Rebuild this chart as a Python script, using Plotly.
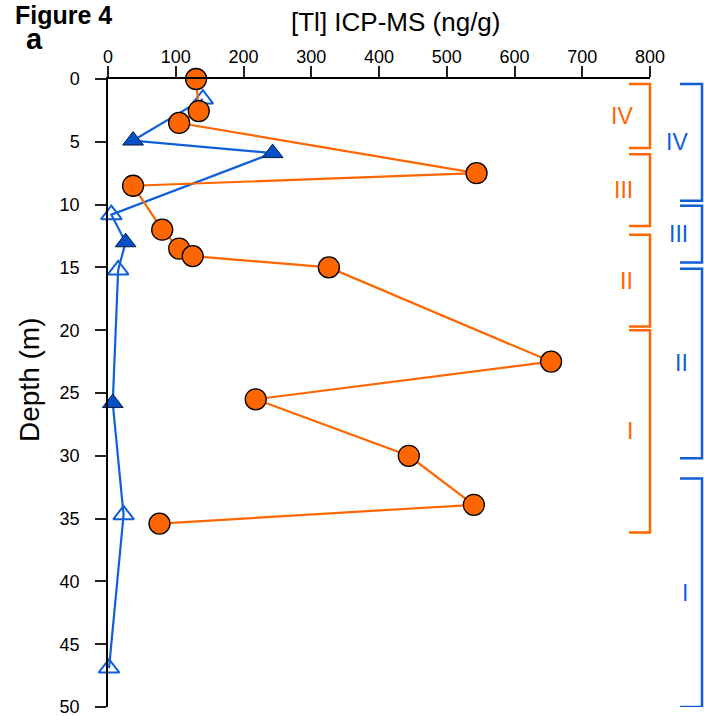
import plotly.graph_objects as go

# ---- data ----
orange_tl = [130, 134, 105, 544, 37, 80, 105, 125, 326, 654, 218, 444, 540, 76]
orange_depth = [0.0, 2.55, 3.5, 7.5, 8.5, 12.0, 13.5, 14.1, 15.0, 22.5, 25.5, 30.0, 33.9, 35.4]

blue_tl = [140, 37, 243, 5, 26, 15, 7, 23, 1.5]
blue_depth = [1.6, 4.9, 5.9, 10.8, 13.0, 15.2, 25.8, 34.7, 46.9]
blue_open = [True, False, False, True, False, True, False, True, True]

orange_zones = ["IV", "III", "II", "I"]
orange_top = [0.4, 6.0, 12.4, 20.0]
orange_bottom = [5.5, 11.7, 19.7, 36.1]

blue_zones = ["IV", "III", "II", "I"]
blue_top = [0.4, 10.1, 15.1, 31.8]
blue_bottom = [9.7, 14.6, 30.2, 50.0]

x_ticks = list(range(0, 801, 100))
y_ticks = list(range(0, 51, 5))

# ---- style ----
ORANGE = "#FF6600"
BLUE = "#0F5FD8"
BLUE_FILL = "#0050C8"
FONT = "Liberation Sans, Arial, Helvetica, sans-serif"

W, H = 704, 716
L, R, T, B = 108, 54, 79, 9
pw, ph = W - L - R, H - T - B


def px_x(p):
    return (p - L) / pw


def px_y(p):
    return (H - B - p) / ph


fig = go.Figure()

fig.add_trace(go.Scatter(
    x=blue_tl, y=blue_depth, mode="lines+markers",
    line=dict(color=BLUE, width=2.2),
    marker=dict(
        symbol=["triangle-up-open" if o else "triangle-up" for o in blue_open],
        size=18,
        color=[BLUE if o else BLUE_FILL for o in blue_open],
        line=dict(color=["#0a1a40" if not o else BLUE for o in blue_open],
                  width=[2 if o else 1 for o in blue_open]),
    ),
    showlegend=False, cliponaxis=False,
))

fig.add_trace(go.Scatter(
    x=orange_tl, y=orange_depth, mode="lines+markers",
    line=dict(color=ORANGE, width=2.2),
    marker=dict(symbol="circle", size=21, color=ORANGE,
                line=dict(color="black", width=1.3)),
    showlegend=False, cliponaxis=False,
))

shapes = []
annotations = []


def bracket(tops, bots, names, x_in, x_out, label_x, color):
    for t, b, n in zip(tops, bots, names):
        shapes.append(dict(type="path", xref="paper", yref="y",
                           path=f"M {x_in},{t} L {x_out},{t} L {x_out},{b} L {x_in},{b}",
                           line=dict(color=color, width=2.5)))
        annotations.append(dict(xref="paper", yref="y", x=label_x, y=(t + b) / 2,
                                text=n, showarrow=False, xanchor="right", yanchor="middle",
                                font=dict(family=FONT, size=23, color=color)))


bracket(orange_top, orange_bottom, orange_zones, px_x(629), px_x(650), px_x(635), ORANGE)
bracket(blue_top, blue_bottom, blue_zones, px_x(680), px_x(702), px_x(690), BLUE)

annotations.append(dict(xref="paper", yref="paper", x=px_x(395), y=px_y(22),
                        text="[Tl] ICP-MS (ng/g)", showarrow=False,
                        xanchor="center", yanchor="middle",
                        font=dict(family=FONT, size=26, color="black")))
annotations.append(dict(xref="paper", yref="paper", x=px_x(30), y=px_y(380),
                        text="Depth (m)", showarrow=False, textangle=-90,
                        xanchor="center", yanchor="middle",
                        font=dict(family=FONT, size=28, color="black")))
annotations.append(dict(xref="paper", yref="paper", x=px_x(13), y=px_y(15),
                        text="<b>Figure 4</b>", showarrow=False,
                        xanchor="left", yanchor="middle",
                        font=dict(family=FONT, size=25, color="black")))
annotations.append(dict(xref="paper", yref="paper", x=px_x(24), y=px_y(39),
                        text="<b>a</b>", showarrow=False,
                        xanchor="left", yanchor="middle",
                        font=dict(family=FONT, size=29, color="black")))

fig.update_layout(
    width=W, height=H,
    margin=dict(l=L, r=R, t=T, b=B, pad=0, autoexpand=False),
    paper_bgcolor="white", plot_bgcolor="white",
    shapes=shapes, annotations=annotations,
    font=dict(family=FONT, size=18, color="black"),
    xaxis=dict(range=[0, 800], side="top", tickvals=x_ticks,
               ticks="outside", ticklen=11, tickwidth=1.5, tickcolor="#222",
               showline=True, linecolor="black", linewidth=1.5,
               showgrid=False, zeroline=False, ticklabelstandoff=-4,
               ticklabeloverflow="allow", automargin=False,
               tickfont=dict(family=FONT, size=18, color="black")),
    yaxis=dict(range=[50, 0], tickvals=y_ticks,
               ticks="outside", ticklen=11, tickwidth=1.5, tickcolor="#222",
               showline=True, linecolor="black", linewidth=1.5,
               showgrid=False, zeroline=False, ticklabelstandoff=12,
               ticklabeloverflow="allow", automargin=False,
               tickfont=dict(family=FONT, size=18, color="black")),
)

fig.write_html("out.html")
